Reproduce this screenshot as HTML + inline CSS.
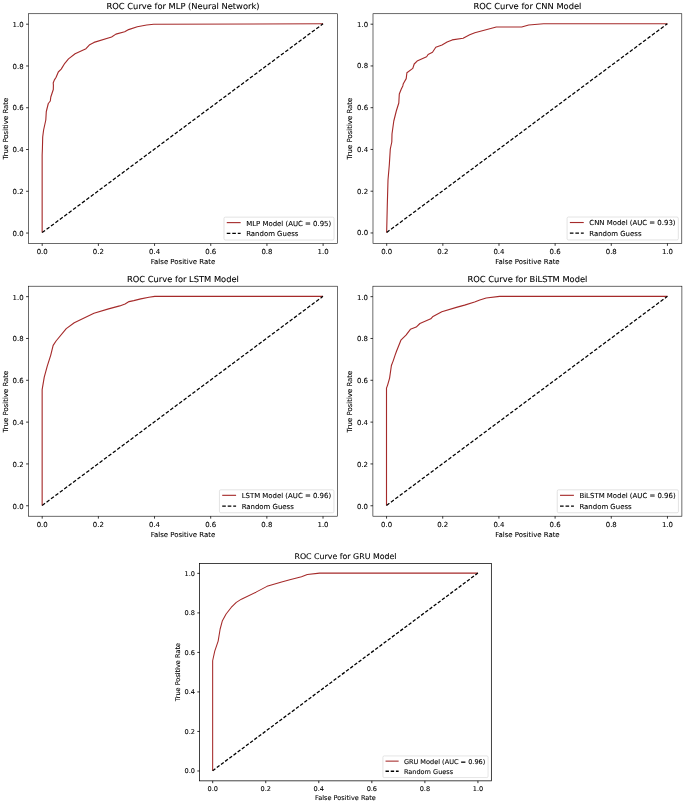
<!DOCTYPE html>
<html lang="en"><head><meta charset="utf-8"><title>ROC Curves</title>
<style>html,body{margin:0;padding:0;background:#fff}svg{display:block}text{font-family:'DejaVu Sans','Liberation Sans',sans-serif;fill:#000;stroke:#000;stroke-width:0.09px;text-rendering:geometricPrecision}</style></head>
<body>
<svg width="685" height="801" viewBox="0 0 685 801">
<rect width="685" height="801" fill="#fff"/>
<g>
<line x1="42.2" y1="243.5" x2="42.2" y2="245.93" stroke="#000" stroke-width="0.78"/>
<text x="42.2" y="254.05" font-size="6.94" text-anchor="middle">0.0</text>
<line x1="26.07" y1="233.06" x2="28.5" y2="233.06" stroke="#000" stroke-width="0.78"/>
<text x="23.64" y="235.59" font-size="6.94" text-anchor="end">0.0</text>
<line x1="98.38" y1="243.5" x2="98.38" y2="245.93" stroke="#000" stroke-width="0.78"/>
<text x="98.38" y="254.05" font-size="6.94" text-anchor="middle">0.2</text>
<line x1="26.07" y1="191.28" x2="28.5" y2="191.28" stroke="#000" stroke-width="0.78"/>
<text x="23.64" y="193.81" font-size="6.94" text-anchor="end">0.2</text>
<line x1="154.56" y1="243.5" x2="154.56" y2="245.93" stroke="#000" stroke-width="0.78"/>
<text x="154.56" y="254.05" font-size="6.94" text-anchor="middle">0.4</text>
<line x1="26.07" y1="149.51" x2="28.5" y2="149.51" stroke="#000" stroke-width="0.78"/>
<text x="23.64" y="152.04" font-size="6.94" text-anchor="end">0.4</text>
<line x1="210.75" y1="243.5" x2="210.75" y2="245.93" stroke="#000" stroke-width="0.78"/>
<text x="210.75" y="254.05" font-size="6.94" text-anchor="middle">0.6</text>
<line x1="26.07" y1="107.74" x2="28.5" y2="107.74" stroke="#000" stroke-width="0.78"/>
<text x="23.64" y="110.27" font-size="6.94" text-anchor="end">0.6</text>
<line x1="266.93" y1="243.5" x2="266.93" y2="245.93" stroke="#000" stroke-width="0.78"/>
<text x="266.93" y="254.05" font-size="6.94" text-anchor="middle">0.8</text>
<line x1="26.07" y1="65.97" x2="28.5" y2="65.97" stroke="#000" stroke-width="0.78"/>
<text x="23.64" y="68.5" font-size="6.94" text-anchor="end">0.8</text>
<line x1="323.11" y1="243.5" x2="323.11" y2="245.93" stroke="#000" stroke-width="0.78"/>
<text x="323.11" y="254.05" font-size="6.94" text-anchor="middle">1.0</text>
<line x1="26.07" y1="24.19" x2="28.5" y2="24.19" stroke="#000" stroke-width="0.78"/>
<text x="23.64" y="26.72" font-size="6.94" text-anchor="end">1.0</text>
<path d="M42.15 232.61 L42.15 165 L42.15 155 L42.4 149 L42.7 137 L43.6 130 L45.8 120 L46.3 111.5 L48.3 103.5 L50.3 101 L50.8 97 L53.3 89.5 L53.4 85 L53.2 83 L54.3 80.1 L56.1 77.2 L58.3 72 L61.2 69.1 L64.8 63.3 L68.5 58.9 L75.1 53.8 L86 48.7 L89.7 44.7 L94 42.4 L111.6 37 L115.9 34.1 L124.7 31.8 L128.6 29.6 L137.3 26.8 L146.7 25 L153.7 24.3 L323.06 23.75" fill="none" stroke="#a52a2a" stroke-width="1.12" stroke-linejoin="round"/>
<line x1="42.15" y1="232.61" x2="323.06" y2="23.75" stroke="#000" stroke-width="1.25" stroke-dasharray="3.6 1.91"/>
<rect x="223.99" y="217.13" width="110.04" height="22.9" rx="1.39" fill="#fff" fill-opacity="0.8" stroke="#ccc" stroke-opacity="0.8" stroke-width="0.69"/>
<line x1="226.76" y1="222.62" x2="240.64" y2="222.62" stroke="#a52a2a" stroke-width="1.12"/>
<line x1="226.76" y1="233.33" x2="240.64" y2="233.33" stroke="#000" stroke-width="1.25" stroke-dasharray="3.6 1.91"/>
<text x="246.2" y="225.54" font-size="6.94">MLP Model (AUC = 0.95)</text>
<text x="246.2" y="236.25" font-size="6.94">Random Guess</text>
<rect x="28.5" y="13.75" width="309" height="229.75" fill="none" stroke="#000" stroke-width="0.58"/>
<text x="183" y="8.8" font-size="8.33" text-anchor="middle">ROC Curve for MLP (Neural Network)</text>
<text x="183" y="263.9" font-size="6.94" text-anchor="middle">False Positive Rate</text>
<text transform="translate(7.8 128.62) rotate(-90)" font-size="6.94" text-anchor="middle">True Positive Rate</text>
</g>
<g>
<line x1="386.7" y1="243.4" x2="386.7" y2="245.83" stroke="#000" stroke-width="0.78"/>
<text x="386.7" y="253.95" font-size="6.94" text-anchor="middle">0.0</text>
<line x1="370.57" y1="232.96" x2="373" y2="232.96" stroke="#000" stroke-width="0.78"/>
<text x="368.14" y="235.49" font-size="6.94" text-anchor="end">0.0</text>
<line x1="442.85" y1="243.4" x2="442.85" y2="245.83" stroke="#000" stroke-width="0.78"/>
<text x="442.85" y="253.95" font-size="6.94" text-anchor="middle">0.2</text>
<line x1="370.57" y1="191.21" x2="373" y2="191.21" stroke="#000" stroke-width="0.78"/>
<text x="368.14" y="193.74" font-size="6.94" text-anchor="end">0.2</text>
<line x1="498.99" y1="243.4" x2="498.99" y2="245.83" stroke="#000" stroke-width="0.78"/>
<text x="498.99" y="253.95" font-size="6.94" text-anchor="middle">0.4</text>
<line x1="370.57" y1="149.45" x2="373" y2="149.45" stroke="#000" stroke-width="0.78"/>
<text x="368.14" y="151.98" font-size="6.94" text-anchor="end">0.4</text>
<line x1="555.14" y1="243.4" x2="555.14" y2="245.83" stroke="#000" stroke-width="0.78"/>
<text x="555.14" y="253.95" font-size="6.94" text-anchor="middle">0.6</text>
<line x1="370.57" y1="107.7" x2="373" y2="107.7" stroke="#000" stroke-width="0.78"/>
<text x="368.14" y="110.23" font-size="6.94" text-anchor="end">0.6</text>
<line x1="611.28" y1="243.4" x2="611.28" y2="245.83" stroke="#000" stroke-width="0.78"/>
<text x="611.28" y="253.95" font-size="6.94" text-anchor="middle">0.8</text>
<line x1="370.57" y1="65.94" x2="373" y2="65.94" stroke="#000" stroke-width="0.78"/>
<text x="368.14" y="68.47" font-size="6.94" text-anchor="end">0.8</text>
<line x1="667.43" y1="243.4" x2="667.43" y2="245.83" stroke="#000" stroke-width="0.78"/>
<text x="667.43" y="253.95" font-size="6.94" text-anchor="middle">1.0</text>
<line x1="370.57" y1="24.19" x2="373" y2="24.19" stroke="#000" stroke-width="0.78"/>
<text x="368.14" y="26.72" font-size="6.94" text-anchor="end">1.0</text>
<path d="M386.65 232.52 L387.3 205 L388 180 L389.3 165 L390.3 149 L391.8 142 L392 134 L393.8 121 L396.3 111 L398.8 103 L399.3 94 L401.3 89 L402.8 85.9 L403.3 83.7 L406.2 78.6 L406.9 72.8 L412.8 68.4 L414.2 64 L417.1 61.1 L426.6 56.7 L428.1 54.5 L432.5 52.3 L435.8 47.2 L442 45 L447.1 42.1 L452.2 39.9 L463.1 38.2 L469.7 34.8 L474.8 32.8 L496.3 27 L521.7 27 L528.7 25 L543.6 23.75 L599.8 23.75 L667.38 23.75" fill="none" stroke="#a52a2a" stroke-width="1.12" stroke-linejoin="round"/>
<line x1="386.65" y1="232.52" x2="667.38" y2="23.75" stroke="#000" stroke-width="1.25" stroke-dasharray="3.6 1.91"/>
<rect x="567.09" y="217.03" width="111.24" height="22.9" rx="1.39" fill="#fff" fill-opacity="0.8" stroke="#ccc" stroke-opacity="0.8" stroke-width="0.69"/>
<line x1="569.87" y1="222.52" x2="583.75" y2="222.52" stroke="#a52a2a" stroke-width="1.12"/>
<line x1="569.87" y1="233.23" x2="583.75" y2="233.23" stroke="#000" stroke-width="1.25" stroke-dasharray="3.6 1.91"/>
<text x="589.3" y="225.44" font-size="6.94">CNN Model (AUC = 0.93)</text>
<text x="589.3" y="236.15" font-size="6.94">Random Guess</text>
<rect x="373" y="13.75" width="308.8" height="229.65" fill="none" stroke="#000" stroke-width="0.58"/>
<text x="527.4" y="8.8" font-size="8.33" text-anchor="middle">ROC Curve for CNN Model</text>
<text x="527.4" y="263.8" font-size="6.94" text-anchor="middle">False Positive Rate</text>
<text transform="translate(352.3 128.57) rotate(-90)" font-size="6.94" text-anchor="middle">True Positive Rate</text>
</g>
<g>
<line x1="42.2" y1="516.2" x2="42.2" y2="518.63" stroke="#000" stroke-width="0.78"/>
<text x="42.2" y="526.75" font-size="6.94" text-anchor="middle">0.0</text>
<line x1="26.07" y1="505.75" x2="28.5" y2="505.75" stroke="#000" stroke-width="0.78"/>
<text x="23.64" y="508.68" font-size="6.94" text-anchor="end">0.0</text>
<line x1="98.36" y1="516.2" x2="98.36" y2="518.63" stroke="#000" stroke-width="0.78"/>
<text x="98.36" y="526.75" font-size="6.94" text-anchor="middle">0.2</text>
<line x1="26.07" y1="463.93" x2="28.5" y2="463.93" stroke="#000" stroke-width="0.78"/>
<text x="23.64" y="466.86" font-size="6.94" text-anchor="end">0.2</text>
<line x1="154.53" y1="516.2" x2="154.53" y2="518.63" stroke="#000" stroke-width="0.78"/>
<text x="154.53" y="526.75" font-size="6.94" text-anchor="middle">0.4</text>
<line x1="26.07" y1="422.11" x2="28.5" y2="422.11" stroke="#000" stroke-width="0.78"/>
<text x="23.64" y="425.04" font-size="6.94" text-anchor="end">0.4</text>
<line x1="210.69" y1="516.2" x2="210.69" y2="518.63" stroke="#000" stroke-width="0.78"/>
<text x="210.69" y="526.75" font-size="6.94" text-anchor="middle">0.6</text>
<line x1="26.07" y1="380.29" x2="28.5" y2="380.29" stroke="#000" stroke-width="0.78"/>
<text x="23.64" y="383.22" font-size="6.94" text-anchor="end">0.6</text>
<line x1="266.85" y1="516.2" x2="266.85" y2="518.63" stroke="#000" stroke-width="0.78"/>
<text x="266.85" y="526.75" font-size="6.94" text-anchor="middle">0.8</text>
<line x1="26.07" y1="338.47" x2="28.5" y2="338.47" stroke="#000" stroke-width="0.78"/>
<text x="23.64" y="341.4" font-size="6.94" text-anchor="end">0.8</text>
<line x1="323.02" y1="516.2" x2="323.02" y2="518.63" stroke="#000" stroke-width="0.78"/>
<text x="323.02" y="526.75" font-size="6.94" text-anchor="middle">1.0</text>
<line x1="26.07" y1="296.65" x2="28.5" y2="296.65" stroke="#000" stroke-width="0.78"/>
<text x="23.64" y="299.58" font-size="6.94" text-anchor="end">1.0</text>
<path d="M42.15 505.44 L42.15 389.6 L44.25 377.1 L47.25 366.1 L50.75 355.1 L53.15 345.4 L56.05 341 L66.25 328.6 L74.25 322.7 L93.95 313.2 L108.55 308.9 L119.75 305.9 L125.05 303.9 L129.05 301.6 L133.75 300.6 L140.75 298.9 L148.95 297.3 L154.75 296.35 L322.97 296.35" fill="none" stroke="#a52a2a" stroke-width="1.12" stroke-linejoin="round"/>
<line x1="42.15" y1="505.44" x2="322.97" y2="296.35" stroke="#000" stroke-width="1.25" stroke-dasharray="3.6 1.91"/>
<rect x="219.43" y="489.83" width="114.5" height="22.9" rx="1.39" fill="#fff" fill-opacity="0.8" stroke="#ccc" stroke-opacity="0.8" stroke-width="0.69"/>
<line x1="222.21" y1="495.32" x2="236.09" y2="495.32" stroke="#a52a2a" stroke-width="1.12"/>
<line x1="222.21" y1="506.03" x2="236.09" y2="506.03" stroke="#000" stroke-width="1.25" stroke-dasharray="3.6 1.91"/>
<text x="241.64" y="498.24" font-size="6.94">LSTM Model (AUC = 0.96)</text>
<text x="241.64" y="508.95" font-size="6.94">Random Guess</text>
<rect x="28.5" y="286.2" width="308.9" height="230" fill="none" stroke="#000" stroke-width="0.58"/>
<text x="182.95" y="281.6" font-size="8.33" text-anchor="middle">ROC Curve for LSTM Model</text>
<text x="182.95" y="536.85" font-size="6.94" text-anchor="middle">False Positive Rate</text>
<text transform="translate(7.8 401.6) rotate(-90)" font-size="6.94" text-anchor="middle">True Positive Rate</text>
</g>
<g>
<line x1="386.55" y1="516.2" x2="386.55" y2="518.63" stroke="#000" stroke-width="0.78"/>
<text x="386.55" y="526.75" font-size="6.94" text-anchor="middle">0.0</text>
<line x1="370.47" y1="505.75" x2="372.9" y2="505.75" stroke="#000" stroke-width="0.78"/>
<text x="368.04" y="508.68" font-size="6.94" text-anchor="end">0.0</text>
<line x1="442.73" y1="516.2" x2="442.73" y2="518.63" stroke="#000" stroke-width="0.78"/>
<text x="442.73" y="526.75" font-size="6.94" text-anchor="middle">0.2</text>
<line x1="370.47" y1="463.93" x2="372.9" y2="463.93" stroke="#000" stroke-width="0.78"/>
<text x="368.04" y="466.86" font-size="6.94" text-anchor="end">0.2</text>
<line x1="498.91" y1="516.2" x2="498.91" y2="518.63" stroke="#000" stroke-width="0.78"/>
<text x="498.91" y="526.75" font-size="6.94" text-anchor="middle">0.4</text>
<line x1="370.47" y1="422.11" x2="372.9" y2="422.11" stroke="#000" stroke-width="0.78"/>
<text x="368.04" y="425.04" font-size="6.94" text-anchor="end">0.4</text>
<line x1="555.1" y1="516.2" x2="555.1" y2="518.63" stroke="#000" stroke-width="0.78"/>
<text x="555.1" y="526.75" font-size="6.94" text-anchor="middle">0.6</text>
<line x1="370.47" y1="380.29" x2="372.9" y2="380.29" stroke="#000" stroke-width="0.78"/>
<text x="368.04" y="383.22" font-size="6.94" text-anchor="end">0.6</text>
<line x1="611.28" y1="516.2" x2="611.28" y2="518.63" stroke="#000" stroke-width="0.78"/>
<text x="611.28" y="526.75" font-size="6.94" text-anchor="middle">0.8</text>
<line x1="370.47" y1="338.47" x2="372.9" y2="338.47" stroke="#000" stroke-width="0.78"/>
<text x="368.04" y="341.4" font-size="6.94" text-anchor="end">0.8</text>
<line x1="667.46" y1="516.2" x2="667.46" y2="518.63" stroke="#000" stroke-width="0.78"/>
<text x="667.46" y="526.75" font-size="6.94" text-anchor="middle">1.0</text>
<line x1="370.47" y1="296.65" x2="372.9" y2="296.65" stroke="#000" stroke-width="0.78"/>
<text x="368.04" y="299.58" font-size="6.94" text-anchor="end">1.0</text>
<path d="M386.5 505.44 L386.5 388.1 L387.6 385.1 L389.6 378.1 L391.4 365.5 L393.1 361.1 L395.1 355.1 L396.5 351.2 L400.9 340.2 L406 335.1 L410.4 329.3 L416.2 327.1 L419.9 323.5 L430.8 318.8 L433 316.4 L441.8 311.8 L456.4 307.4 L464.6 305.1 L474.6 302 L479.8 300 L486.2 298 L499.6 296.35 L667.41 296.35" fill="none" stroke="#a52a2a" stroke-width="1.12" stroke-linejoin="round"/>
<line x1="386.5" y1="505.44" x2="667.41" y2="296.35" stroke="#000" stroke-width="1.25" stroke-dasharray="3.6 1.91"/>
<rect x="557.24" y="489.83" width="121.19" height="22.9" rx="1.39" fill="#fff" fill-opacity="0.8" stroke="#ccc" stroke-opacity="0.8" stroke-width="0.69"/>
<line x1="560.02" y1="495.32" x2="573.9" y2="495.32" stroke="#a52a2a" stroke-width="1.12"/>
<line x1="560.02" y1="506.03" x2="573.9" y2="506.03" stroke="#000" stroke-width="1.25" stroke-dasharray="3.6 1.91"/>
<text x="579.45" y="498.24" font-size="6.94">BiLSTM Model (AUC = 0.96)</text>
<text x="579.45" y="508.95" font-size="6.94">Random Guess</text>
<rect x="372.9" y="286.2" width="309" height="230" fill="none" stroke="#000" stroke-width="0.58"/>
<text x="527.4" y="281.6" font-size="8.33" text-anchor="middle">ROC Curve for BiLSTM Model</text>
<text x="527.4" y="536.85" font-size="6.94" text-anchor="middle">False Positive Rate</text>
<text transform="translate(352.2 401.6) rotate(-90)" font-size="6.94" text-anchor="middle">True Positive Rate</text>
</g>
<g>
<line x1="212.7" y1="780.85" x2="212.7" y2="783.15" stroke="#000" stroke-width="0.8"/>
<text x="212.7" y="790.82" font-size="6.56" text-anchor="middle">0.0</text>
<line x1="197.3" y1="770.97" x2="199.6" y2="770.97" stroke="#000" stroke-width="0.8"/>
<text x="195.01" y="773.36" font-size="6.56" text-anchor="end">0.0</text>
<line x1="265.75" y1="780.85" x2="265.75" y2="783.15" stroke="#000" stroke-width="0.8"/>
<text x="265.75" y="790.82" font-size="6.56" text-anchor="middle">0.2</text>
<line x1="197.3" y1="731.45" x2="199.6" y2="731.45" stroke="#000" stroke-width="0.8"/>
<text x="195.01" y="733.84" font-size="6.56" text-anchor="end">0.2</text>
<line x1="318.79" y1="780.85" x2="318.79" y2="783.15" stroke="#000" stroke-width="0.8"/>
<text x="318.79" y="790.82" font-size="6.56" text-anchor="middle">0.4</text>
<line x1="197.3" y1="691.93" x2="199.6" y2="691.93" stroke="#000" stroke-width="0.8"/>
<text x="195.01" y="694.32" font-size="6.56" text-anchor="end">0.4</text>
<line x1="371.84" y1="780.85" x2="371.84" y2="783.15" stroke="#000" stroke-width="0.8"/>
<text x="371.84" y="790.82" font-size="6.56" text-anchor="middle">0.6</text>
<line x1="197.3" y1="652.42" x2="199.6" y2="652.42" stroke="#000" stroke-width="0.8"/>
<text x="195.01" y="654.81" font-size="6.56" text-anchor="end">0.6</text>
<line x1="424.88" y1="780.85" x2="424.88" y2="783.15" stroke="#000" stroke-width="0.8"/>
<text x="424.88" y="790.82" font-size="6.56" text-anchor="middle">0.8</text>
<line x1="197.3" y1="612.9" x2="199.6" y2="612.9" stroke="#000" stroke-width="0.8"/>
<text x="195.01" y="615.29" font-size="6.56" text-anchor="end">0.8</text>
<line x1="477.93" y1="780.85" x2="477.93" y2="783.15" stroke="#000" stroke-width="0.8"/>
<text x="477.93" y="790.82" font-size="6.56" text-anchor="middle">1.0</text>
<line x1="197.3" y1="573.38" x2="199.6" y2="573.38" stroke="#000" stroke-width="0.8"/>
<text x="195.01" y="575.77" font-size="6.56" text-anchor="end">1.0</text>
<path d="M212.65 770.69 L212.65 660.75 L214.75 651.05 L218.15 641.05 L220.1 629.25 L222.4 620.65 L226.1 614.05 L231.2 607.45 L236.3 602.35 L241.4 599.15 L256 592.15 L267 586.35 L281.6 581.95 L289.8 579.85 L301.5 576.65 L307.3 574.55 L319.6 573.1 L477.88 573.1" fill="none" stroke="#a52a2a" stroke-width="1.06" stroke-linejoin="round"/>
<line x1="212.65" y1="770.69" x2="477.88" y2="573.1" stroke="#000" stroke-width="1.3" stroke-dasharray="3.4 1.8"/>
<rect x="382.9" y="755.93" width="105.17" height="21.64" rx="1.31" fill="#fff" fill-opacity="0.8" stroke="#ccc" stroke-opacity="0.8" stroke-width="0.65"/>
<line x1="385.53" y1="761.13" x2="398.64" y2="761.13" stroke="#a52a2a" stroke-width="1.06"/>
<line x1="385.53" y1="771.27" x2="398.64" y2="771.27" stroke="#000" stroke-width="1.3" stroke-dasharray="3.4 1.8"/>
<text x="403.89" y="763.88" font-size="6.56">GRU Model (AUC = 0.96)</text>
<text x="403.89" y="774.02" font-size="6.56">Random Guess</text>
<rect x="199.6" y="563.5" width="291.75" height="217.35" fill="none" stroke="#000" stroke-width="0.74"/>
<text x="345.48" y="558.9" font-size="7.87" text-anchor="middle">ROC Curve for GRU Model</text>
<text x="345.48" y="800.13" font-size="6.56" text-anchor="middle">False Positive Rate</text>
<text transform="translate(180.04 672.17) rotate(-90)" font-size="6.56" text-anchor="middle">True Positive Rate</text>
</g>
</svg>
</body></html>
